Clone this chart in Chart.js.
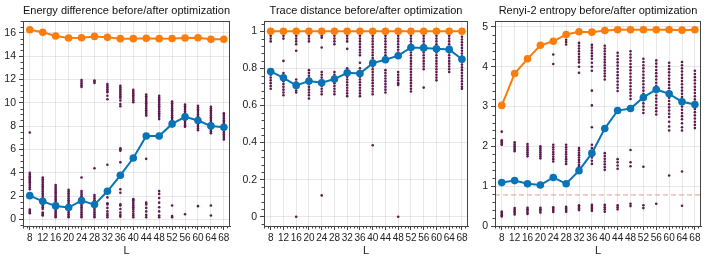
<!DOCTYPE html>
<html>
<head>
<meta charset="utf-8">
<script src="https://cdn.jsdelivr.net/npm/chart.js@4.4.1/dist/chart.umd.min.js"></script>
<style>
html,body{margin:0;padding:0;background:#fff;}
#wrap{position:relative;width:706px;height:264px;overflow:hidden;background:#fff;}
.pane{position:absolute;top:0;height:264px;}
</style>
</head>
<body>
<div id="wrap">
  <div class="pane" style="left:0;width:235px"><canvas id="c1"></canvas></div>
  <div class="pane" style="left:235px;width:237px"><canvas id="c2"></canvas></div>
  <div class="pane" style="left:472px;width:234px"><canvas id="c3"></canvas></div>
</div>
<script>
Chart.defaults.font.family = "'Liberation Sans', Arial, Helvetica, sans-serif";
Chart.defaults.font.size = 11;
Chart.defaults.color = '#222';
Chart.defaults.animation = false;

// system sizes
const L = [8, 12, 16, 20, 24, 28, 32, 36, 40, 44, 48, 52, 56, 60, 64, 68];

// energy difference
const energyBefore = [16.25, 16.03, 15.71, 15.54, 15.57, 15.68, 15.6, 15.49, 15.49, 15.52, 15.49, 15.5, 15.54, 15.57, 15.43, 15.44];
const energyAfter = [2.05, 1.56, 1.17, 1.03, 1.62, 1.28, 2.42, 3.79, 5.27, 7.15, 7.15, 8.19, 8.79, 8.48, 8.02, 7.91];
const energyCloud = [
  [7.45, 4.0, 3.85, 3.7, 3.6, 3.5, 3.4, 3.3, 3.2, 3.05, 2.9, 2.75, 2.6, 0.85, 0.75, 0.65, 0.55],
  [3.6, 3.45, 3.3, 3.15, 3.0, 2.85, 2.7, 2.55, 2.4, 2.25, 2.1, 1.95, 1.8, 1.65, 1.5, 1.35, 1.2, 1.05, 0.9, 0.6, 0.5, 0.4, 0.35],
  [2.95, 2.8, 2.65, 2.5, 2.35, 2.2, 2.05, 1.9, 1.75, 1.6, 1.45, 1.3, 1.15, 1.0, 0.85, 0.7, 0.55, 0.4, 0.3, 0.2],
  [2.55, 2.4, 2.25, 2.1, 1.95, 1.8, 1.65, 1.5, 1.35, 1.2, 1.05, 0.9, 0.75, 0.6, 0.45, 0.3, 0.2],
  [11.95, 11.8, 11.65, 11.5, 11.35, 3.6, 2.45, 2.3, 2.15, 2.0, 1.9, 1.5, 1.35, 1.2, 1.05, 0.9, 0.75, 0.6, 0.45, 0.3, 0.2],
  [11.9, 11.8, 11.7, 4.4, 2.1, 1.95, 1.8, 1.65, 1.5, 1.35, 1.2, 1.05, 0.9, 0.75, 0.6, 0.45, 0.3, 0.2],
  [11.6, 11.45, 11.3, 11.15, 11.0, 10.9, 10.6, 10.3, 4.7, 2.5, 2.4, 1.9, 1.4, 1.3, 1.0, 0.7, 0.5, 0.35, 0.2],
  [11.45, 11.3, 11.15, 11.0, 10.85, 10.7, 10.55, 10.4, 10.2, 9.9, 9.7, 6.1, 6.0, 5.9, 4.9, 2.6, 2.3, 1.3, 1.2, 0.9, 0.6, 0.4, 0.25],
  [11.1, 10.95, 10.8, 10.65, 10.5, 10.35, 10.2, 10.05, 1.75, 1.65, 1.5, 1.35, 1.2, 1.05, 0.9, 0.7, 0.5, 0.35, 0.2],
  [10.7, 10.55, 10.4, 10.25, 10.1, 9.95, 9.8, 9.65, 9.5, 9.35, 9.2, 9.05, 8.9, 5.2, 1.45, 1.3, 1.0, 0.7, 0.4, 0.2],
  [10.6, 10.45, 10.3, 10.15, 10.0, 9.85, 9.7, 9.55, 9.4, 9.25, 9.1, 8.95, 8.8, 8.6, 2.45, 2.2, 1.85, 1.45, 1.05, 0.7, 0.35, 0.2],
  [10.1, 9.95, 9.8, 9.65, 9.5, 9.35, 9.2, 9.05, 8.9, 8.75, 8.6, 8.45, 8.3, 8.15, 8.0, 1.2, 0.3, 0.2],
  [9.85, 9.7, 9.55, 9.4, 9.25, 9.1, 8.95, 8.8, 8.65, 8.5, 8.35, 8.2, 8.05, 7.95, 0.45],
  [9.75, 9.6, 9.45, 9.3, 9.15, 9.0, 8.85, 8.7, 8.55, 8.4, 8.25, 8.1, 7.95, 7.8, 7.65, 1.15],
  [9.65, 9.5, 9.35, 9.2, 9.05, 8.9, 8.75, 8.6, 8.45, 8.3, 8.15, 8.0, 7.85, 7.7, 7.55, 7.4, 1.2, 0.35],
  [9.1, 8.95, 8.8, 8.65, 8.5, 8.35, 8.2, 8.05, 7.9, 7.75, 7.6, 7.45, 7.3, 7.15, 7.0, 6.85]
];
const energyTicks = [0, 2, 4, 6, 8, 10, 12, 14, 16];

// trace distance
const traceBefore = [1, 1, 1, 1, 1, 1, 1, 1, 1, 1, 1, 1, 1, 1, 1, 1];
const traceAfter = [0.783, 0.749, 0.708, 0.731, 0.722, 0.742, 0.776, 0.772, 0.828, 0.846, 0.868, 0.912, 0.91, 0.905, 0.902, 0.849];
const traceCloud = [
  [0.975, 0.96, 0.945, 0.78, 0.765, 0.75, 0.735, 0.72, 0.705, 0.69],
  [0.975, 0.96, 0.84, 0.775, 0.76, 0.745, 0.73, 0.715, 0.7, 0.685, 0.67, 0.655],
  [0.975, 0.96, 0.945, 0.93, 0.895, 0.74, 0.725, 0.71, 0.695, 0.68, 0.67, 0.0],
  [0.975, 0.96, 0.945, 0.79, 0.775, 0.76, 0.745, 0.73, 0.715, 0.7, 0.685, 0.67, 0.655, 0.637],
  [0.975, 0.965, 0.912, 0.78, 0.765, 0.75, 0.735, 0.72, 0.705, 0.69, 0.675, 0.66, 0.115],
  [0.975, 0.96, 0.945, 0.93, 0.78, 0.765, 0.75, 0.735, 0.72, 0.705, 0.69, 0.675, 0.66],
  [0.975, 0.96, 0.945, 0.905, 0.8, 0.785, 0.77, 0.755, 0.74, 0.725, 0.71, 0.695, 0.68, 0.665, 0.65],
  [0.975, 0.96, 0.945, 0.93, 0.915, 0.9, 0.885, 0.87, 0.83, 0.8, 0.785, 0.77, 0.755, 0.74, 0.725, 0.71, 0.695, 0.68, 0.665, 0.65],
  [0.99, 0.975, 0.96, 0.945, 0.93, 0.915, 0.9, 0.885, 0.87, 0.855, 0.84, 0.825, 0.81, 0.795, 0.78, 0.765, 0.75, 0.735, 0.72, 0.705, 0.69, 0.675, 0.66, 0.385],
  [0.99, 0.975, 0.96, 0.945, 0.93, 0.915, 0.9, 0.885, 0.87, 0.855, 0.84, 0.79, 0.775, 0.76, 0.745, 0.73, 0.715, 0.7, 0.685, 0.67],
  [0.99, 0.975, 0.96, 0.945, 0.93, 0.915, 0.9, 0.885, 0.78, 0.765, 0.75, 0.735, 0.72, 0.71, 0.0],
  [0.99, 0.975, 0.96, 0.945, 0.93, 0.915, 0.9, 0.885, 0.87, 0.855, 0.84, 0.825, 0.81, 0.795, 0.78, 0.765, 0.75, 0.735, 0.72, 0.705, 0.69, 0.675],
  [0.99, 0.975, 0.96, 0.945, 0.93, 0.915, 0.9, 0.885, 0.87, 0.855, 0.84, 0.825, 0.81, 0.795, 0.696],
  [0.99, 0.975, 0.96, 0.945, 0.93, 0.915, 0.9, 0.885, 0.87, 0.855, 0.84, 0.825, 0.81, 0.795, 0.78, 0.765, 0.75, 0.735],
  [0.99, 0.975, 0.96, 0.945, 0.93, 0.915, 0.9, 0.885, 0.87, 0.855, 0.84, 0.825, 0.81, 0.795, 0.78],
  [0.97, 0.955, 0.94, 0.925, 0.91, 0.895, 0.88, 0.865, 0.85, 0.835, 0.82, 0.805, 0.79, 0.775, 0.76, 0.745, 0.73, 0.715, 0.7, 0.69]
];
const traceTicks = [0, 0.2, 0.4, 0.6, 0.8, 1];

// Renyi-2 entropy
const renyiBefore = [3.03, 3.83, 4.2, 4.54, 4.64, 4.81, 4.88, 4.87, 4.91, 4.93, 4.93, 4.93, 4.93, 4.93, 4.92, 4.93];
const renyiAfter = [1.09, 1.14, 1.06, 1.03, 1.22, 1.06, 1.39, 1.83, 2.45, 2.9, 2.95, 3.23, 3.43, 3.32, 3.12, 3.05];
const renyiCloud = [
  [2.37, 2.15, 2.12, 2.09, 2.06, 2.04, 0.36, 0.33, 0.3, 0.27, 0.24],
  [2.1, 2.05, 2.0, 1.96, 1.92, 1.88, 0.45, 0.41, 0.37, 0.33, 0.29],
  [2.06, 2.0, 1.95, 1.9, 1.85, 1.8, 1.75, 0.46, 0.42, 0.38, 0.34, 0.3],
  [2.0, 1.95, 1.9, 1.85, 1.8, 1.75, 1.7, 0.46, 0.42, 0.38, 0.34],
  [4.31, 4.07, 2.04, 1.98, 1.92, 1.86, 1.8, 1.74, 1.68, 1.62, 0.47, 0.43, 0.39, 0.35],
  [4.68, 4.62, 4.56, 2.04, 1.98, 1.92, 1.86, 1.8, 1.74, 1.68, 1.62, 1.56, 0.48, 0.44, 0.4, 0.36],
  [4.6, 4.53, 4.46, 4.39, 4.32, 4.25, 4.18, 4.11, 4.0, 3.85, 1.96, 1.9, 1.84, 1.78, 1.72, 1.66, 1.6, 1.54, 1.5, 0.52, 0.48, 0.44, 0.4],
  [4.55, 4.48, 4.41, 4.34, 4.27, 4.2, 4.1, 4.0, 3.9, 3.4, 3.03, 2.48, 2.04, 1.96, 1.88, 1.8, 1.72, 1.64, 1.56, 0.53, 0.48, 0.43, 0.38],
  [4.53, 4.46, 4.39, 4.32, 4.25, 4.18, 4.11, 4.04, 3.97, 3.9, 3.83, 3.76, 3.68, 1.83, 1.76, 1.69, 1.62, 1.55, 1.48, 1.41, 0.53, 0.47, 0.42, 0.36],
  [4.35, 4.27, 4.19, 4.11, 4.03, 3.95, 3.87, 3.79, 3.71, 3.63, 3.55, 3.47, 3.39, 1.68, 1.6, 1.52, 1.44, 0.52, 0.47, 0.42],
  [4.39, 4.31, 4.23, 4.15, 4.07, 3.99, 3.91, 3.83, 3.75, 3.67, 3.59, 3.51, 3.43, 3.35, 3.27, 3.19, 1.91, 1.6, 1.5, 0.56, 0.5],
  [4.2, 4.12, 4.04, 3.96, 3.88, 3.8, 3.72, 3.64, 3.56, 3.48, 3.4, 3.32, 3.24, 3.16, 3.08, 3.0, 2.92, 2.84, 1.49, 0.52, 0.45],
  [4.16, 4.08, 4.0, 3.92, 3.84, 3.76, 3.68, 3.6, 3.52, 3.44, 3.36, 3.28, 3.2, 3.12, 3.04, 2.96, 2.88, 2.8, 0.56],
  [4.1, 4.02, 3.94, 3.86, 3.78, 3.7, 3.62, 3.54, 3.46, 3.38, 3.3, 3.22, 3.14, 3.06, 2.98, 2.9, 2.82, 2.74, 2.62, 2.5, 2.4, 1.27],
  [4.12, 4.04, 3.96, 3.88, 3.8, 3.72, 3.64, 3.56, 3.48, 3.4, 3.32, 3.24, 3.16, 3.08, 3.0, 2.92, 2.84, 2.76, 2.68, 2.58, 2.48, 2.4, 1.37, 0.51],
  [3.9, 3.82, 3.74, 3.66, 3.58, 3.5, 3.42, 3.34, 3.26, 3.18, 3.1, 3.02, 2.94, 2.86, 2.78, 2.7, 2.62, 2.54, 2.46]
];
const renyiTicks = [0, 1, 2, 3, 4, 5];
const renyiThreshold = 0.78;

const X_MIN = 5.9, X_MAX = 69.9;
const ORANGE = '#fc7d0b', BLUE = '#0874b8', DOTS = '#5e1a4e';

const toPts = (ys) => ys.map((y, i) => ({x: L[i], y: y}));
const cloudPts = (cloud) => {
  let pts = [];
  cloud.forEach((col, i) => col.forEach(v => pts.push({x: L[i], y: v})));
  return pts;
};

// frame around the plot + minor ticks
const framePlugin = {
  id: 'frame',
  afterDraw(chart, args, opts) {
    const {ctx, chartArea: a, scales} = chart;
    const x = scales.x, y = scales.y;
    ctx.save();
    ctx.strokeStyle = '#444';
    ctx.lineWidth = 1;
    ctx.strokeRect(Math.round(a.left) + 0.5, Math.round(a.top) + 0.5, Math.round(a.right - a.left) - 1, Math.round(a.bottom - a.top));
    ctx.beginPath();
    for (let v = 6; v <= 69; v++) {
      if (v % 4 === 0 && v >= 8) continue;
      const px = Math.round(x.getPixelForValue(v)) + 0.5;
      ctx.moveTo(px, a.bottom);
      ctx.lineTo(px, a.bottom + 2.5);
    }
    const st = opts.yMinor;
    for (let k = Math.ceil(y.min / st); k * st <= y.max; k++) {
      const v = k * st;
      if (opts.yMajor.some(m => Math.abs(m - v) < st / 10)) continue;
      const py = Math.round(y.getPixelForValue(v)) + 0.5;
      ctx.moveTo(a.left, py);
      ctx.lineTo(a.left - 2.5, py);
    }
    ctx.stroke();
    ctx.restore();
  }
};

function makePanel(id, p) {
  const datasets = [
    {data: cloudPts(p.cloud), backgroundColor: DOTS, borderColor: DOTS, pointRadius: 1.3, pointBorderWidth: 0, order: 3},
    {data: toPts(p.before), showLine: true, borderColor: ORANGE, backgroundColor: ORANGE, borderWidth: 2, pointRadius: 3.8, pointBorderWidth: 0, order: 2},
    {data: toPts(p.after), showLine: true, borderColor: BLUE, backgroundColor: BLUE, borderWidth: 2, pointRadius: 3.8, pointBorderWidth: 0, order: 1}
  ].concat(p.extra || []);
  return new Chart(document.getElementById(id), {
    type: 'scatter',
    data: {datasets: datasets},
    options: {
      responsive: true,
      maintainAspectRatio: false,
      layout: {padding: {left: 0, right: p.padRight, top: 0, bottom: 0}},
      plugins: {
        legend: {display: false},
        tooltip: {enabled: false},
        title: {display: true, text: p.title, fullSize: false, color: '#111',
          font: {size: 11, weight: 'normal'}, padding: {top: 4, bottom: 3.8}},
        frame: {yMinor: p.yMinor, yMajor: p.yTicks}
      },
      scales: {
        x: {
          type: 'linear', min: X_MIN, max: X_MAX,
          afterBuildTicks: (s) => { s.ticks = L.map(v => ({value: v})); },
          afterFit: (s) => { s.height = 38; },
          ticks: {autoSkip: false, maxRotation: 0, padding: 2, color: '#222', font: {size: 10},
            callback: (v) => String(v)},
          grid: {color: 'rgba(0,0,0,0.09)', tickColor: '#444', tickLength: 4},
          border: {display: true, color: '#444'},
          title: {display: true, text: 'L', color: '#222', font: {size: 11}, padding: {top: 0, bottom: 6}}
        },
        y: {
          type: 'linear', min: p.yMin, max: p.yMax,
          afterBuildTicks: (s) => { s.ticks = p.yTicks.map(v => ({value: v})); },
          afterFit: (s) => { s.width = p.yWidth; },
          ticks: {padding: 3, color: '#222', font: {size: 10.5}, callback: (v) => String(+v.toFixed(2))},
          grid: {color: 'rgba(0,0,0,0.09)', tickColor: '#444', tickLength: 4},
          border: {display: true, color: '#444'}
        }
      }
    },
    plugins: [framePlugin]
  });
}

makePanel('c1', {title: 'Energy difference before/after optimization', before: energyBefore, after: energyAfter,
  cloud: energyCloud, yMin: -0.55, yMax: 17, yTicks: energyTicks, yMinor: 0.5, yWidth: 23, padRight: 5});

makePanel('c2', {title: 'Trace distance before/after optimization', before: traceBefore, after: traceAfter,
  cloud: traceCloud, yMin: -0.05, yMax: 1.055, yTicks: traceTicks, yMinor: 0.04, yWidth: 29, padRight: 3});

makePanel('c3', {title: 'Renyi-2 entropy before/after optimization', before: renyiBefore, after: renyiAfter,
  cloud: renyiCloud, yMin: 0, yMax: 5.15, yTicks: renyiTicks, yMinor: 0.2, yWidth: 23, padRight: 5,
  extra: [{data: [{x: X_MIN, y: renyiThreshold}, {x: X_MAX, y: renyiThreshold}], showLine: true,
    borderColor: 'rgba(240,110,110,0.75)', borderWidth: 1, borderDash: [5, 3], pointRadius: 0, order: 4}]});
</script>
</body>
</html>
